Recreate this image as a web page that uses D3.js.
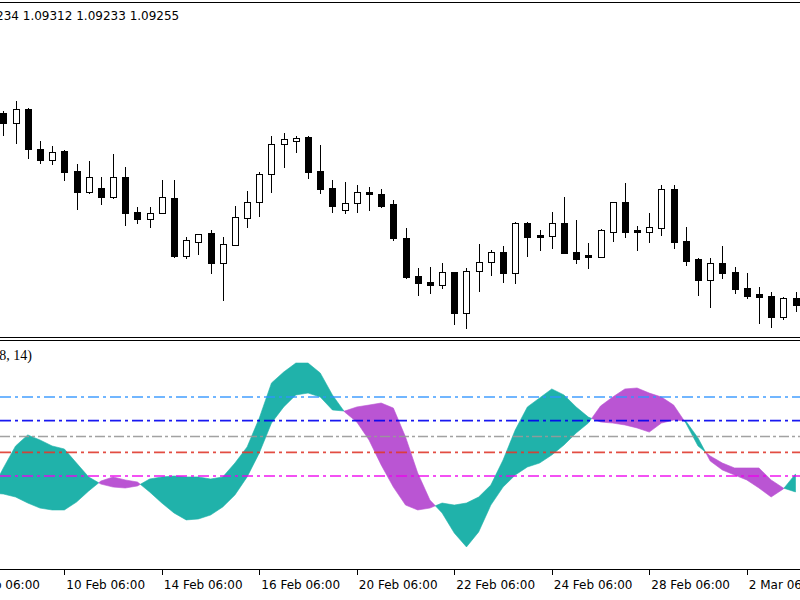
<!DOCTYPE html>
<html><head><meta charset="utf-8">
<script src="https://cdn.jsdelivr.net/npm/d3@7"></script>
<style>html,body{margin:0;padding:0;background:#fff;} svg{display:block}</style>
</head><body><svg id="chart" width="800" height="600"></svg>
<script>
// ---------- DATA ----------
const headerText = "1.09234 1.09312 1.09233 1.09255";
const indicatorLabel = "(8, 14)";

const candleOpen  = [1.1110,1.1100,1.1114,1.1074,1.1063,1.1072,1.1052,1.1031,1.1035,1.1026,
                     1.1046,1.1011,1.1004,1.1010,1.1025,1.0967,1.0981,1.0990,1.0960,1.0978,
                     1.1005,1.1021,1.1049,1.1079,1.1082,1.1086,1.1052,1.1035,1.1013,1.1020,
                     1.1031,1.1029,1.1019,1.0985,1.0947,1.0941,1.0938,1.0951,1.0910,1.0952,
                     1.0961,1.0971,1.0950,1.1000,1.0988,1.0987,1.1000,1.0971,1.0968,1.0966,
                     1.0991,1.1021,1.0993,1.0991,1.0995,1.1034,1.0982,1.0964,1.0943,1.0960,
                     1.0951,1.0935,1.0929,1.0927,1.0906,1.0925];
const candleHigh  = [1.1112,1.1122,1.1115,1.1082,1.1077,1.1073,1.1059,1.1062,1.1046,1.1069,
                     1.1056,1.1016,1.1016,1.1043,1.1043,1.0986,1.0989,1.0993,1.0986,1.1017,
                     1.1032,1.1051,1.1087,1.1090,1.1087,1.1087,1.1078,1.1043,1.1041,1.1038,
                     1.1036,1.1034,1.1023,1.0995,1.0955,1.0956,1.0960,1.0951,1.0955,1.0979,
                     1.0973,1.0977,1.1001,1.1001,1.0993,1.1011,1.1026,1.1003,1.0980,1.0994,
                     1.1021,1.1040,1.0997,1.1010,1.1038,1.1038,1.0996,1.0965,1.0965,1.0977,
                     1.0956,1.0950,1.0936,1.0931,1.0926,1.0931];
const candleLow   = [1.1088,1.1080,1.1065,1.1060,1.1059,1.1043,1.1014,1.1030,1.1019,1.1025,
                     1.0998,1.1000,1.0996,1.1010,1.0966,1.0965,1.0969,1.0950,1.0923,1.0978,
                     1.0996,1.1007,1.1031,1.1056,1.1071,1.1045,1.1030,1.1011,1.1010,1.1011,
                     1.1013,1.1016,1.0983,1.0945,1.0928,1.0930,1.0935,1.0899,1.0895,1.0932,
                     1.0948,1.0941,1.0940,1.0967,1.0973,1.0975,1.0970,1.0960,1.0955,1.0966,
                     1.0982,1.0986,1.0973,1.0981,1.0988,1.0975,1.0958,1.0928,1.0916,1.0945,
                     1.0930,1.0925,1.0900,1.0896,1.0904,1.0912];
const candleClose = [1.1100,1.1114,1.1074,1.1063,1.1071,1.1051,1.1031,1.1046,1.1026,1.1046,
                     1.1010,1.1004,1.1010,1.1026,1.0967,1.0983,1.0989,1.0960,1.0979,1.1006,
                     1.1021,1.1049,1.1079,1.1084,1.1085,1.1051,1.1034,1.1017,1.1020,1.1031,
                     1.1029,1.1017,1.0985,1.0946,1.0940,1.0938,1.0951,1.0910,1.0952,1.0961,
                     1.0971,1.0950,1.1000,1.0986,1.0986,1.1000,1.0970,1.0964,1.0966,1.0993,
                     1.1021,1.0991,1.0991,1.0996,1.1034,1.0981,1.0962,1.0943,1.0960,1.0950,
                     1.0934,1.0927,1.0926,1.0906,1.0925,1.0918];

// oscillator values start one bar before the first candle
const oscFirstBar = -1;
const oscFast = [15.5,
  30.1,44.0,51.0,47.8,44.0,42.1,33.2,24.4,19.9,18.0,
  17.4,18.7,23.1,24.4,25.0,24.4,24.4,23.1,24.4,33.2,
  43.4,61.7,83.9,90.8,96.5,96.5,90.2,76.3,65.5,59.2,
  47.8,32.0,18.0,6.6,3.5,4.7,7.9,6.6,7.9,11.7,
  19.3,35.1,54.1,68.7,74.4,80.1,76.3,68.7,62.3,59.2,
  58.5,57.3,55.4,52.8,58.5,60.4,59.8,49.1,34.5,28.8,
  25.6,22.5,17.4,11.7,16.8,26.3];
const oscSlow = [14.2,
  13.6,11.7,7.9,4.7,3.5,3.5,8.5,15.5,21.8,24.4,
  22.5,21.2,14.9,7.9,1.6,-2.8,-2.2,0.3,5.4,13.0,
  24.4,39.6,58.5,68.7,76.3,77.5,75.0,66.8,66.1,68.7,
  69.9,71.2,68.0,49.7,26.9,9.8,1.6,-11.1,-19.9,-10.4,
  6.6,18.0,25.6,30.7,33.2,38.3,44.6,52.2,58.5,69.3,
  75.0,80.1,80.7,77.5,75.0,69.9,58.5,44.0,37.7,33.2,
  30.1,30.1,30.1,22.5,17.4,14.9];

const levelValues = [75, 60, 50, 40, 25];

const tickBars   = [-3, 5, 13, 21, 29, 37, 45, 53, 61];
const tickLabels = ["6 Feb 06:00","10 Feb 06:00","14 Feb 06:00","16 Feb 06:00","20 Feb 06:00",
                    "22 Feb 06:00","24 Feb 06:00","28 Feb 06:00","2 Mar 06:00"];

// ---------- DRAW ----------
const svg = d3.select("#chart");
svg.append("rect").attr("width",800).attr("height",600).attr("fill","#fff");

const x = d3.scaleLinear().domain([0, 65]).range([3.4, 795.5]);
const yPrice = d3.scaleLinear().domain([1.0883, 1.1220]).range([340, 3]);
const yOsc = d3.scaleLinear().domain([25, 75]).range([476, 397]);

const defs = svg.append("defs");
defs.append("clipPath").attr("id","clipTop").append("rect")
  .attr("x",0).attr("y",3).attr("width",800).attr("height",334);
defs.append("clipPath").attr("id","clipBot").append("rect")
  .attr("x",0).attr("y",340).attr("width",800).attr("height",229);

// candles
const topG = svg.append("g").attr("clip-path","url(#clipTop)");
const candles = candleOpen.map((o,i)=>({i, o, h:candleHigh[i], l:candleLow[i], c:candleClose[i]}));
const cg = topG.selectAll("g.candle").data(candles).join("g").attr("class","candle")
  .attr("shape-rendering","crispEdges");
cg.append("line")
  .attr("x1",d=>Math.round(x(d.i))+0.5).attr("x2",d=>Math.round(x(d.i))+0.5)
  .attr("y1",d=>Math.round(yPrice(d.h))).attr("y2",d=>Math.round(yPrice(d.l))+1)
  .attr("stroke","#000").attr("stroke-width",1);
cg.append("rect")
  .attr("x",d=>Math.round(x(d.i))-2.5)
  .attr("width",6)
  .attr("y",d=>Math.round(yPrice(Math.max(d.o,d.c)))+0.5)
  .attr("height",d=>Math.max(1, Math.round(yPrice(Math.min(d.o,d.c))) - Math.round(yPrice(Math.max(d.o,d.c)))))
  .attr("fill",d=>d.c>d.o?"#fff":"#000")
  .attr("stroke","#000").attr("stroke-width",1);

// header text
svg.append("text").attr("x",-30.7).attr("y",20)
  .attr("font-family","DejaVu Sans, Verdana, sans-serif").attr("font-size",12)
  .attr("fill","#000").text(headerText);

// oscillator fill
const botG = svg.append("g").attr("clip-path","url(#clipBot)");
const pts = oscFast.map((f,k)=>({b:k+oscFirstBar, f, s:oscSlow[k]}));
const runs = [];
let run = {up: pts[0].f >= pts[0].s, pts:[pts[0]]};
for (let k=0; k<pts.length-1; k++){
  const a = pts[k], b = pts[k+1];
  const da = a.f - a.s, db = b.f - b.s;
  const upB = db >= 0;
  if (da !== 0 && db !== 0 && (da > 0) !== (db > 0)) {
    const t = da/(da-db);
    const v = a.f + t*(b.f-a.f);
    const cp = {b: a.b + t*(b.b-a.b), f: v, s: v};
    run.pts.push(cp); runs.push(run);
    run = {up: upB, pts:[cp, b]};
  } else {
    run.pts.push(b);
  }
}
runs.push(run);
const area = d3.area().x(d=>x(d.b)).y0(d=>yOsc(d.s)).y1(d=>yOsc(d.f));
botG.selectAll("path.fill").data(runs).join("path").attr("class","fill")
  .attr("d",d=>area(d.pts))
  .attr("fill",d=>d.up?"#20b2aa":"#ba55d3")
  .attr("stroke",d=>d.up?"#20b2aa":"#ba55d3").attr("stroke-width",0.6);

// levels
const levelStyle = [
  {color:"#2f95ff", dash:"11,4,3,4", w:1.6},
  {color:"#0000f0", dash:"11,4,3,4", w:1.8},
  {color:"#999999", dash:"10,3,3,3", w:1.5},
  {color:"#e03a2e", dash:"11,4,3,4", w:1.8},
  {color:"#ee00ee", dash:"11,4,3,4", w:1.6}
];
botG.selectAll("line.level").data(levelValues).join("line").attr("class","level")
  .attr("x1",0).attr("x2",800)
  .attr("y1",d=>yOsc(d)).attr("y2",d=>yOsc(d))
  .attr("stroke",(d,i)=>levelStyle[i].color)
  .attr("stroke-width",(d,i)=>levelStyle[i].w)
  .attr("stroke-dasharray",(d,i)=>levelStyle[i].dash)
  .attr("opacity",0.9);

// indicator label
svg.append("text").attr("x",32).attr("y",359.5).attr("text-anchor","end")
  .attr("font-family","Liberation Serif, serif").attr("font-size",14)
  .attr("fill","#000").text(indicatorLabel);

// frame lines
const frame = svg.append("g").attr("shape-rendering","crispEdges").attr("stroke","#000");
[2.5, 337.5, 340.5, 569.5].forEach(yy=>{
  frame.append("line").attr("x1",0).attr("x2",800).attr("y1",yy).attr("y2",yy).attr("stroke-width",1);
});

// time axis
const axis = d3.axisBottom(x).tickValues(tickBars)
  .tickFormat((d,i)=>tickLabels[i]).tickSize(6).tickPadding(5);
const ax = svg.append("g").attr("transform","translate(0,569)").call(axis);
ax.select(".domain").remove();
ax.selectAll("line").attr("stroke","#000").attr("shape-rendering","crispEdges");
ax.selectAll("text").attr("text-anchor","start").attr("x",1.5)
  .attr("font-family","DejaVu Sans, Verdana, sans-serif").attr("font-size",12).attr("fill","#000");
</script></body></html>
